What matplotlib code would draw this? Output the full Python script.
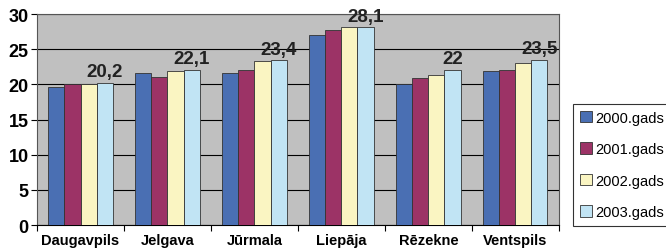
import matplotlib.pyplot as plt
import numpy as np

plt.rcParams['font.family'] = ['Liberation Sans', 'DejaVu Sans']

cities = ["Daugavpils", "Jelgava", "Jūrmala", "Liepāja", "Rēzekne", "Ventspils"]
years = ["2000.gads", "2001.gads", "2002.gads", "2003.gads"]
v2000 = [19.6, 21.6, 21.6, 27.0, 20.1, 21.9]
v2001 = [20.0, 21.0, 22.1, 27.7, 20.9, 22.0]
v2002 = [20.0, 21.9, 23.3, 28.1, 21.3, 23.1]
v2003 = [20.2, 22.1, 23.4, 28.1, 22.0, 23.5]
colors = ["#4a6fb3", "#9c3366", "#faf5c2", "#c1e4f4"]

series = [v2000, v2001, v2002, v2003]

fig = plt.figure(figsize=(6.66, 2.51), dpi=100)
ax = fig.add_axes([0.0556, 0.0996, 0.7834, 0.8404])
ax.set_facecolor("#c0c0c0")

x = np.arange(len(cities))
w = 0.185
for i, (vals, c, lab) in enumerate(zip(series, colors, years)):
    bars = ax.bar(x + (i - 1.5) * w, vals, w, color=c, edgecolor="#333333",
                  linewidth=0.6, label=lab, zorder=3)
    if i == 3:
        for b, v in zip(bars, vals):
            txt = ("%g" % v).replace(".", ",")
            ax.text(b.get_x() + b.get_width() / 2, v + 0.4, txt, ha="center",
                    va="bottom", fontsize=13.5, fontweight="bold", color="#222222")

ax.set_xlim(-0.5, len(cities) - 0.5)
ax.set_ylim(0, 30)
ax.set_yticks(np.arange(0, 31, 5))
ax.yaxis.grid(True, color="black", linewidth=0.8, zorder=0)
ax.set_axisbelow(True)
ax.set_xticks(x)
ax.set_xticklabels(cities, fontsize=10.5, fontweight="bold")
ax.set_xticks(np.arange(-0.5, len(cities), 1), minor=True)
ax.tick_params(axis="x", which="major", length=0, pad=6)
ax.tick_params(axis="x", which="minor", length=4, width=0.8)
ax.tick_params(axis="y", length=4, width=0.8, labelsize=13, pad=2)
for lbl in ax.get_yticklabels():
    lbl.set_fontweight("bold")
for s in ax.spines.values():
    s.set_color("#555555")
    s.set_linewidth(0.8)
ax.spines["bottom"].set_color("black")

leg = fig.legend(loc="upper left", bbox_to_anchor=(573 / 666, 1 - 105 / 251),
                 fontsize=10.5, frameon=True, fancybox=False, edgecolor="black",
                 handlelength=0.85, handleheight=0.85, handletextpad=0.2,
                 labelspacing=1.2, borderpad=0.45, borderaxespad=0)
leg.get_frame().set_linewidth(0.8)

fig.savefig("out.png", dpi=100)
